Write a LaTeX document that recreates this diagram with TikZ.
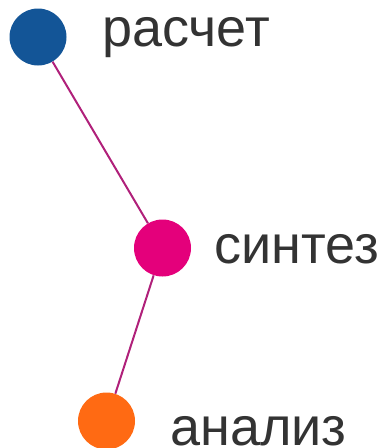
\documentclass[tikz,border=0pt]{standalone}
\usepackage{fontspec}
\setmainfont{Liberation Sans}
\definecolor{cblue}{HTML}{135597}
\definecolor{cmag}{HTML}{E4007B}
\definecolor{corange}{HTML}{FF6A13}
\definecolor{cline}{HTML}{B0207A}
\definecolor{ctext}{HTML}{333333}
\begin{document}
\begin{tikzpicture}[x=1pt,y=-1pt,
  dot/.style={circle,minimum size=57pt,inner sep=0pt,draw=none},
  lbl/.style={anchor=base west,inner sep=0pt,text depth=0pt,text=ctext,font=\fontsize{54}{58}\selectfont},
  link/.style={draw=cline,line width=2pt}]
\useasboundingbox (0,0) rectangle (384,448);
\node[dot,fill=cblue] (a) at (38,37) {};
\node[dot,fill=cmag] (b) at (162.5,248) {};
\node[dot,fill=corange] (c) at (106.5,421) {};
\draw[link] (a) -- (b);
\draw[link] (b) -- (c);
\node[lbl] (ta) at (102,46) {расчет};
\node[lbl] (tb) at (214,263) {синтез};
\node[lbl] (tc) at (170,445) {анализ};
\end{tikzpicture}
\end{document}
